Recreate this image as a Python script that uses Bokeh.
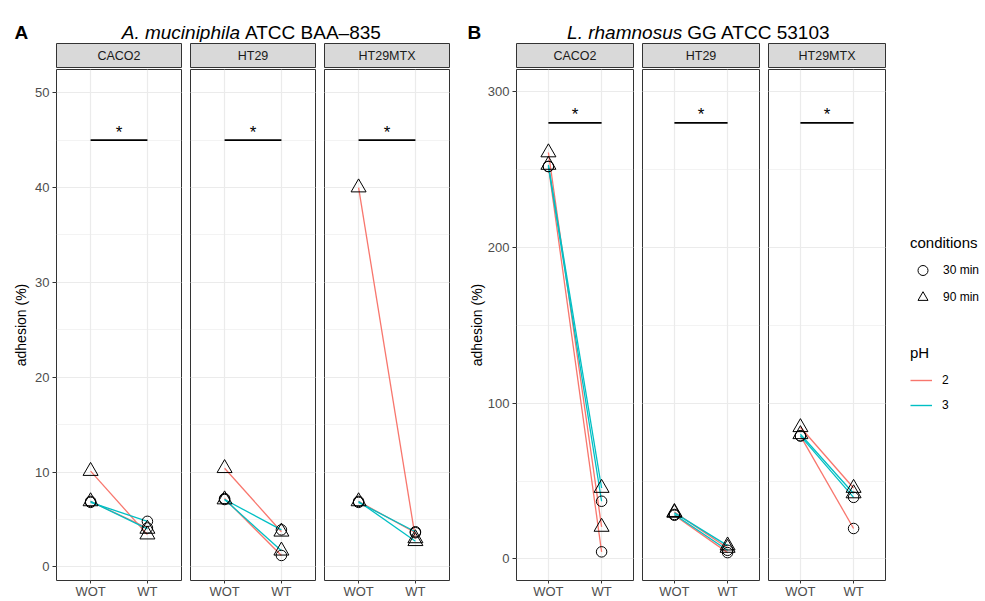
from bokeh.plotting import figure
from bokeh.layouts import row, column
from bokeh.models import Range1d, FactorRange, SingleIntervalTicker, Legend, LegendItem
from bokeh.core.properties import value
from bokeh.embed import file_html
from bokeh.resources import INLINE

FONT = "Liberation Sans"
RED = "#F8766D"
TEAL = "#00BFC4"

# ---------------- data ----------------
cells = ["CACO2", "HT29", "HT29MTX"]
treatments = ["WOT", "WT"]
ph_levels = ["2", "3"]
conditions = ["30 min", "90 min"]
panel_tags = ["A", "B"]
strain_italic = ["A. muciniphila", "L. rhamnosus"]
strain_rest = ["ATCC BAA–835", "GG ATCC 53103"]
y_title = "adhesion (%)"

# A. muciniphila ATCC BAA-835: adhesion (%) per cell line [CACO2, HT29, HT29MTX]
akk_wot_ph2_30 = [6.9, 7.2, 6.9]
akk_wt_ph2_30 = [4.1, 1.2, 3.6]
akk_wot_ph2_90 = [10.1, 10.4, 40.0]
akk_wt_ph2_90 = [3.4, 3.7, 3.0]
akk_wot_ph3_30 = [6.8, 7.1, 6.8]
akk_wt_ph3_30 = [4.8, 3.9, 3.7]
akk_wot_ph3_90 = [6.9, 7.1, 6.9]
akk_wt_ph3_90 = [4.0, 1.7, 2.7]

# L. rhamnosus GG ATCC 53103: adhesion (%) per cell line [CACO2, HT29, HT29MTX]
lgg_wot_ph2_30 = [252.0, 28.0, 79.0]
lgg_wt_ph2_30 = [4.5, 4.0, 19.5]
lgg_wot_ph2_90 = [261.0, 30.0, 84.5]
lgg_wt_ph2_90 = [20.5, 7.0, 45.5]
lgg_wot_ph3_30 = [252.0, 28.5, 79.0]
lgg_wt_ph3_30 = [37.0, 5.5, 39.5]
lgg_wot_ph3_90 = [253.0, 29.5, 80.0]
lgg_wt_ph3_90 = [45.5, 8.5, 42.0]

# significance bars (WOT vs WT) and star label heights
sig_bar_y = [45.0, 280.0]
sig_star_y = [45.84, 285.1]
sig_label = "*"

# axis limits and tick steps
y_limits = [(-1.44, 52.45), (-13.9, 314.3)]
y_tick_step = [10, 100]

series = [
    {("2", "30 min"): (akk_wot_ph2_30, akk_wt_ph2_30),
     ("2", "90 min"): (akk_wot_ph2_90, akk_wt_ph2_90),
     ("3", "30 min"): (akk_wot_ph3_30, akk_wt_ph3_30),
     ("3", "90 min"): (akk_wot_ph3_90, akk_wt_ph3_90)},
    {("2", "30 min"): (lgg_wot_ph2_30, lgg_wt_ph2_30),
     ("2", "90 min"): (lgg_wot_ph2_90, lgg_wt_ph2_90),
     ("3", "30 min"): (lgg_wot_ph3_30, lgg_wt_ph3_30),
     ("3", "90 min"): (lgg_wot_ph3_90, lgg_wt_ph3_90)},
]

ph_colors = {"2": RED, "3": TEAL}
cond_marker = {"30 min": "circle", "90 min": "triangle"}
cond_size = {"30 min": 10.5, "90 min": 15}

# ---------------- layout geometry ----------------
PAGE_W = 985
HEADER_H = 42
STRIP_H = 26
PANEL_H = 533
frame_w = [125, 117]
first_left = [56, 66]
gap_left = 8
label_standoff = [3, 0]


def make_strip(text, w, ml):
    s = figure(width=w, height=STRIP_H, x_range=Range1d(0, 1), y_range=Range1d(0, 1),
               x_axis_location=None, y_axis_location=None, toolbar_location=None,
               output_backend="svg", min_border_left=ml, min_border_right=1,
               min_border_top=1, min_border_bottom=0)
    s.grid.visible = False
    s.background_fill_color = "#D9D9D9"
    s.border_fill_color = "white"
    s.outline_line_color = "#333333"
    s.outline_line_width = 1
    s.text(x=[0.5], y=[0.5], text=[text], text_align="center", text_baseline="middle",
           text_font=value(FONT), text_font_size="12.5px", text_color="#1A1A1A")
    return s


def make_panel(si, ci, w, ml, show_y):
    lo, hi = y_limits[si]
    p = figure(width=w, height=PANEL_H,
               x_range=FactorRange(factors=treatments, range_padding=0.1,
                                   range_padding_units="absolute"),
               y_range=Range1d(lo, hi),
               x_axis_location="below", y_axis_location=("left" if show_y else None),
               toolbar_location=None, output_backend="svg",
               min_border_left=ml, min_border_right=1, min_border_top=1,
               min_border_bottom=20)
    p.background_fill_color = "white"
    p.border_fill_color = "white"
    p.outline_line_color = "#333333"
    p.outline_line_width = 1

    yt = SingleIntervalTicker(interval=y_tick_step[si], num_minor_ticks=2)
    p.ygrid.ticker = yt
    p.ygrid.grid_line_color = "#EBEBEB"
    p.ygrid.grid_line_width = 1.2
    p.ygrid.minor_grid_line_color = "#EBEBEB"
    p.ygrid.minor_grid_line_width = 0.6
    p.xgrid.grid_line_color = "#EBEBEB"
    p.xgrid.grid_line_width = 1.2

    p.xaxis.axis_line_color = None
    p.xaxis.major_tick_line_color = "#333333"
    p.xaxis.major_tick_in = 0
    p.xaxis.major_tick_out = 3
    p.xaxis.major_label_standoff = 0
    p.xaxis.major_label_text_font = FONT
    p.xaxis.major_label_text_font_size = "13px"
    p.xaxis.major_label_text_color = "#4D4D4D"

    if show_y:
        p.yaxis.ticker = yt
        p.yaxis.axis_label = y_title
        p.yaxis.axis_label_text_font = FONT
        p.yaxis.axis_label_text_font_size = "14px"
        p.yaxis.axis_label_text_font_style = "normal"
        p.yaxis.axis_label_text_color = "black"
        p.yaxis.axis_label_standoff = label_standoff[si]
        p.yaxis.axis_line_color = None
        p.yaxis.major_tick_line_color = "#333333"
        p.yaxis.major_tick_in = 0
        p.yaxis.major_tick_out = 4
        p.yaxis.minor_tick_line_color = None
        p.yaxis.major_label_standoff = 3
        p.yaxis.major_label_text_font = FONT
        p.yaxis.major_label_text_font_size = "13px"
        p.yaxis.major_label_text_color = "#4D4D4D"

    data = series[si]
    for ph in ph_levels:
        for cond in conditions:
            wot, wt = data[(ph, cond)]
            p.line(x=treatments, y=[wot[ci], wt[ci]], line_color=ph_colors[ph], line_width=1.3)
    for ph in ph_levels:
        for cond in conditions:
            wot, wt = data[(ph, cond)]
            p.scatter(x=treatments, y=[wot[ci], wt[ci]], marker=cond_marker[cond],
                      size=cond_size[cond], fill_color=None, line_color="black", line_width=1)

    p.line(x=treatments, y=[sig_bar_y[si]] * 2, line_color="black", line_width=1.6)
    p.text(x=[1.0], y=[sig_star_y[si]], text=[sig_label], text_align="center",
           text_baseline="middle", text_font=value(FONT), text_font_size="17px",
           text_color="black")
    return p


columns = []
used_w = 0
for si in range(2):
    for ci, cell in enumerate(cells):
        ml = first_left[si] if ci == 0 else gap_left
        w = ml + frame_w[si] + 1
        used_w += w
        st = make_strip(cell, w, ml)
        pn = make_panel(si, ci, w, ml, ci == 0)
        columns.append(column(st, pn, spacing=0))

# ---------------- legend ----------------
LEG_W = PAGE_W - used_w
lg = figure(width=LEG_W, height=STRIP_H + PANEL_H, x_range=Range1d(0, 1), y_range=Range1d(0, 1),
            x_axis_location=None, y_axis_location=None, toolbar_location=None,
            output_backend="svg", min_border=0)
lg.grid.visible = False
lg.outline_line_color = None
lg.background_fill_color = "white"
lg.border_fill_color = "white"

# legend key renderers: placed outside the visible range so only the keys show
cond_rs = [lg.scatter(x=[-5], y=[-5], marker=cond_marker[c], size=cond_size[c], fill_color=None,
                      line_color="black", line_width=1) for c in conditions]
ph_rs = [lg.line(x=[-6, -5], y=[-5, -5], line_color=ph_colors[ph], line_width=1.4)
         for ph in ph_levels]

common = dict(padding=0, margin=0, border_line_color=None, background_fill_alpha=0,
              title_text_font=FONT, title_text_font_size="15px", title_text_font_style="normal",
              title_text_color="black", label_text_font=FONT, label_text_font_size="12px",
              label_text_color="black")
leg_cond = Legend(title="conditions",
                  items=[LegendItem(label=c, renderers=[r]) for c, r in zip(conditions, cond_rs)],
                  location=(24, 291), spacing=1, title_standoff=6,
                  glyph_width=25, glyph_height=26, label_height=26, label_standoff=8, **common)
leg_ph = Legend(title="pH",
                items=[LegendItem(label=ph, renderers=[r]) for ph, r in zip(ph_levels, ph_rs)],
                location=(24, 186), spacing=5, title_standoff=9,
                glyph_width=22, glyph_height=20, label_height=20, label_standoff=10, **common)
lg.add_layout(leg_cond, "center")
lg.add_layout(leg_ph, "center")

# ---------------- header (panel tags and titles) ----------------
hd = figure(width=PAGE_W, height=HEADER_H, x_range=Range1d(0, PAGE_W), y_range=Range1d(HEADER_H, 0),
            x_axis_location=None, y_axis_location=None, toolbar_location=None,
            output_backend="svg", min_border=0)
hd.grid.visible = False
hd.outline_line_color = None
hd.background_fill_color = "white"
hd.border_fill_color = "white"
tag_x = [14, 467]
split_x = [(239.5, 244.5), (681.7, 686.8)]
base_y = 32.3
hd.text(x=tag_x, y=[base_y] * 2, text=panel_tags, text_font=value(FONT), text_font_size="19px",
        text_font_style="bold", text_align="left", text_baseline="alphabetic", text_color="black")
hd.text(x=[s[0] for s in split_x], y=[base_y] * 2, text=strain_italic, text_font=value(FONT),
        text_font_size="19px", text_font_style="italic", text_align="right",
        text_baseline="alphabetic", text_color="black")
hd.text(x=[s[1] for s in split_x], y=[base_y] * 2, text=strain_rest, text_font=value(FONT),
        text_font_size="19px", text_align="left", text_baseline="alphabetic", text_color="black")

layout = column(hd, row(*columns, lg, spacing=0), spacing=0)

open("out.html", "w").write(file_html(layout, INLINE))
